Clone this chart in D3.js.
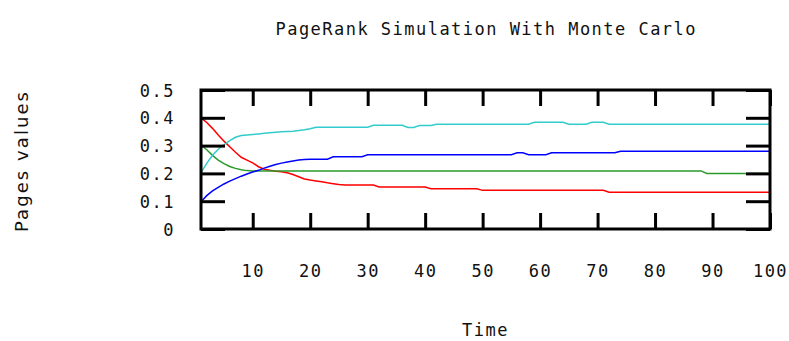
<!DOCTYPE html>
<html>
<head>
<meta charset="utf-8">
<script src="https://cdn.jsdelivr.net/npm/d3@7"></script>
<style>
  body { margin: 0; background: #fff; }
  text { fill: #111; }
</style>
</head>
<body>
<svg id="chart" width="789" height="341"></svg>
<script>
// PageRank Monte Carlo simulation, one value per time step (t = 1..100)
var xTicks = [10, 20, 30, 40, 50, 60, 70, 80, 90, 100];
var xTickLabels = ["10", "20", "30", "40", "50", "60", "70", "80", "90", "100"];
var yTicks = [0, 0.1, 0.2, 0.3, 0.4, 0.5];
var yTickLabels = ["0", "0.1", "0.2", "0.3", "0.4", "0.5"];

var redPage = [
  .400,.383,.362,.338,.316,.296,.276,.258,.248,.238,
  .224,.215,.211,.208,.206,.202,.196,.188,.180,.176,
  .173,.170,.166,.163,.160,.158,.158,.158,.158,.158,
  .158,.151,.151,.151,.151,.151,.151,.151,.151,.151,
  .145,.145,.145,.145,.145,.145,.145,.145,.145,.139,
  .139,.139,.139,.139,.139,.139,.139,.139,.139,.139,
  .139,.139,.139,.139,.139,.139,.139,.139,.139,.139,
  .139,.132,.132,.132,.132,.132,.132,.132,.132,.132,
  .132,.132,.132,.132,.132,.132,.132,.132,.132,.132,
  .132,.132,.132,.132,.132,.132,.132,.132,.132,.132
];
var greenPage = [
  .302,.285,.265,.248,.235,.225,.218,.213,.210,.209,
  .209,.209,.209,.209,.209,.209,.209,.209,.209,.209,
  .209,.209,.209,.209,.209,.209,.209,.209,.209,.209,
  .209,.209,.209,.209,.209,.209,.209,.209,.209,.209,
  .209,.209,.209,.209,.209,.209,.209,.209,.209,.209,
  .209,.209,.209,.209,.209,.209,.209,.209,.209,.209,
  .209,.209,.209,.209,.209,.209,.209,.209,.209,.209,
  .209,.209,.209,.209,.209,.209,.209,.209,.209,.209,
  .209,.209,.209,.209,.209,.209,.209,.209,.200,.200,
  .200,.200,.200,.200,.200,.200,.200,.200,.200,.200
];
var cyanPage = [
  .203,.236,.265,.287,.303,.318,.330,.336,.338,.340,
  .342,.344,.346,.348,.350,.351,.352,.354,.357,.361,
  .366,.366,.366,.366,.366,.366,.366,.366,.366,.366,
  .373,.373,.373,.373,.373,.373,.365,.365,.372,.372,
  .372,.377,.377,.377,.377,.377,.377,.377,.377,.377,
  .377,.377,.377,.377,.377,.377,.377,.377,.384,.384,
  .384,.384,.384,.384,.377,.377,.377,.377,.384,.384,
  .384,.377,.377,.377,.377,.377,.377,.377,.377,.377,
  .377,.377,.377,.377,.377,.377,.377,.377,.377,.377,
  .377,.377,.377,.377,.377,.377,.377,.377,.377,.377
];
var bluePage = [
  .098,.120,.137,.150,.162,.172,.181,.190,.198,.205,
  .211,.219,.226,.232,.237,.241,.245,.248,.250,.251,
  .251,.251,.251,.260,.260,.260,.260,.260,.260,.267,
  .267,.267,.267,.267,.267,.267,.267,.267,.267,.267,
  .267,.267,.267,.267,.267,.267,.267,.267,.267,.267,
  .267,.267,.267,.267,.267,.274,.274,.267,.267,.267,
  .267,.274,.274,.274,.274,.274,.274,.274,.274,.274,
  .274,.274,.274,.280,.280,.280,.280,.280,.280,.280,
  .280,.280,.280,.280,.280,.280,.280,.280,.280,.280,
  .280,.280,.280,.280,.280,.280,.280,.280,.280,.280
];

var series = [
  { values: redPage,   color: "#ff0000" },
  { values: greenPage, color: "#2a9a2a" },
  { values: cyanPage,  color: "#33cccc" },
  { values: bluePage,  color: "#0000ff" }
];

var plotL = 201, plotR = 770, plotT = 90, plotB = 229;
var monoFont = "'DejaVu Sans Mono', monospace";

var svg = d3.select("#chart");

var x = d3.scaleLinear().domain([1, 100]).range([plotL, plotR]);
var y = d3.scaleLinear().domain([0, 0.5]).range([plotB, plotT]);

// lines
var line = d3.line()
  .x(function(d, i) { return x(i + 1); })
  .y(function(d) { return y(d); });

svg.append("g")
  .selectAll("path")
  .data(series)
  .enter().append("path")
  .attr("d", function(d) { return line(d.values); })
  .attr("fill", "none")
  .attr("stroke", function(d) { return d.color; })
  .attr("stroke-width", 1.5);

// axes, ticks pointing inward
function styleAxis(g) {
  g.select(".domain").remove();
  g.selectAll(".tick line").attr("stroke", "#000").attr("stroke-width", 3);
}

var xAxis = svg.append("g")
  .attr("transform", "translate(0," + plotB + ")")
  .call(d3.axisBottom(x).tickValues(xTicks).tickSize(-16)
    .tickFormat(function(d, i) { return xTickLabels[i]; }))
  .call(styleAxis);
xAxis.selectAll(".tick text")
  .attr("y", 48).attr("dy", 0)
  .attr("font-family", monoFont).attr("font-size", 17)
  .attr("letter-spacing", "1.5px")
  .attr("fill", "#111");

svg.append("g")
  .attr("transform", "translate(0," + plotT + ")")
  .call(d3.axisTop(x).tickValues(xTicks).tickSize(-16).tickFormat(""))
  .call(styleAxis);

var yAxis = svg.append("g")
  .attr("transform", "translate(" + plotL + ",0)")
  .call(d3.axisLeft(y).tickValues(yTicks).tickSize(-24)
    .tickFormat(function(d, i) { return yTickLabels[i]; }))
  .call(styleAxis);
yAxis.selectAll(".tick text")
  .attr("x", -26).attr("dy", "0.36em")
  .attr("font-family", monoFont).attr("font-size", 17)
  .attr("letter-spacing", "1.5px")
  .attr("fill", "#111");

svg.append("g")
  .attr("transform", "translate(" + plotR + ",0)")
  .call(d3.axisRight(y).tickValues(yTicks).tickSize(-24).tickFormat(""))
  .call(styleAxis);

// frame
svg.append("rect")
  .attr("x", plotL).attr("y", plotT)
  .attr("width", plotR - plotL).attr("height", plotB - plotT)
  .attr("fill", "none")
  .attr("stroke", "#000")
  .attr("stroke-width", 3);

// titles
svg.append("text")
  .attr("x", (plotL + plotR) / 2).attr("y", 35)
  .attr("text-anchor", "middle")
  .attr("font-family", monoFont).attr("font-size", 17)
  .attr("textLength", 420).attr("lengthAdjust", "spacing")
  .text("PageRank Simulation With Monte Carlo");

svg.append("text")
  .attr("x", (plotL + plotR) / 2).attr("y", 336)
  .attr("text-anchor", "middle")
  .attr("font-family", monoFont).attr("font-size", 17)
  .attr("letter-spacing", "1.5px")
  .text("Time");

svg.append("text")
  .attr("transform", "translate(28,162) rotate(-90)")
  .attr("text-anchor", "middle")
  .attr("font-family", "'DejaVu Sans', sans-serif").attr("font-size", 18)
  .attr("textLength", 140).attr("lengthAdjust", "spacing")
  .text("Pages values");
</script>
</body>
</html>
